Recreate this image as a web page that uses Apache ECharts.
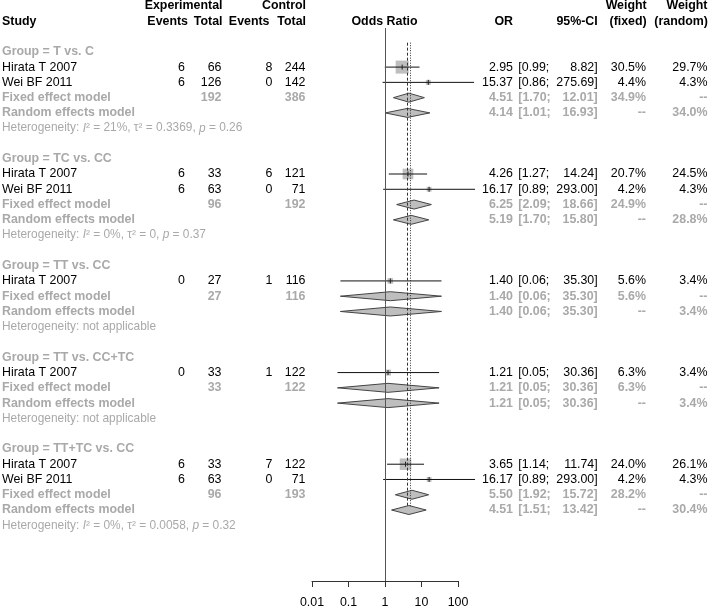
<!DOCTYPE html>
<html>
<head>
<meta charset="utf-8">
<script src="https://cdn.jsdelivr.net/npm/echarts@6.0.0/dist/echarts.min.js"></script>
<style>html,body{margin:0;padding:0;background:#fff}#c{width:709px;height:609px}</style>
</head>
<body>
<div id="c"></div>
<script>
// ---------------- data ----------------
const groupNames = ['T vs. C', 'TC vs. CC', 'TT vs. CC', 'TT vs. CC+TC', 'TT+TC vs. CC'];
const groupStudies = [['Hirata T 2007', 'Wei BF 2011'], ['Hirata T 2007', 'Wei BF 2011'], ['Hirata T 2007'], ['Hirata T 2007'], ['Hirata T 2007', 'Wei BF 2011']];
const expEvents = [[6, 6], [6, 6], [0], [0], [6, 6]];
const expTotal = [[66, 126], [33, 63], [27], [33], [33, 63]];
const ctrlEvents = [[8, 0], [6, 0], [1], [1], [7, 0]];
const ctrlTotal = [[244, 142], [121, 71], [116], [122], [122, 71]];
const studyOR = [[2.95, 15.37], [4.26, 16.17], [1.40], [1.21], [3.65, 16.17]];
const studyLower = [[0.99, 0.86], [1.27, 0.89], [0.06], [0.05], [1.14, 0.89]];
const studyUpper = [[8.82, 275.69], [14.24, 293.00], [35.30], [30.36], [11.74, 293.00]];
const studyWFixed = [[30.5, 4.4], [20.7, 4.2], [5.6], [6.3], [24.0, 4.2]];
const studyWRandom = [[29.7, 4.3], [24.5, 4.3], [3.4], [3.4], [26.1, 4.3]];
const fixedTotalE = [192, 96, 27, 33, 96];
const fixedTotalC = [386, 192, 116, 122, 193];
const fixedOR = [4.51, 6.25, 1.40, 1.21, 5.50];
const fixedLower = [1.70, 2.09, 0.06, 0.05, 1.92];
const fixedUpper = [12.01, 18.66, 35.30, 30.36, 15.72];
const fixedW = [34.9, 24.9, 5.6, 6.3, 28.2];
const randomOR = [4.14, 5.19, 1.40, 1.21, 4.51];
const randomLower = [1.01, 1.70, 0.06, 0.05, 1.51];
const randomUpper = [16.93, 15.80, 35.30, 30.36, 13.42];
const randomW = [34.0, 28.8, 3.4, 3.4, 30.4];
const hetI2 = ['21%', '0%', null, null, '0%'];
const hetTau2 = ['0.3369', '0', null, null, '0.0058'];
const hetP = ['0.26', '0.37', null, null, '0.32'];
const overallFixed = 4.05;
const overallRandom = 4.88;
const xTicks = [0.01, 0.1, 1, 10, 100];
const xTickLabels = ['0.01', '0.1', '1', '10', '100'];

// ---------------- layout / style ----------------
const FF = "'Liberation Sans', Arial, Helvetica, sans-serif";
const FS = 12.4, FS_HET = 11.9;
const TOP = 6, PITCH = 15.3, AXIS_Y = 582;
const BLACK = '#000', GREY = '#a9a9a9';
const COL = {study: 2, expE: 185, expT: 221.5, ctlE: 272.5, ctlT: 305.5, or: 513, ciL: 518.3, ciU: 597.7, wf: 646, wr: 707.5};

const texts = [];
function T(row, x, text, align, opts) {
  texts.push(Object.assign({row, x, text, align, weight: 'normal', color: BLACK, size: FS}, opts || {}));
}
// headers
const HB = {weight: 'bold'};
T(0, 222.5, 'Experimental', 'right', HB);
T(0, 306, 'Control', 'right', HB);
T(0, 646.7, 'Weight', 'right', HB);
T(0, 707.5, 'Weight', 'right', HB);
T(1, COL.study, 'Study', 'left', HB);
T(1, 188, 'Events', 'right', HB);
T(1, 222.5, 'Total', 'right', HB);
T(1, 269.5, 'Events', 'right', HB);
T(1, 306, 'Total', 'right', HB);
T(1, 384.5, 'Odds Ratio', 'center', HB);
T(1, 513, 'OR', 'right', HB);
T(1, 597.7, '95%-CI', 'right', HB);
T(1, 646.7, '(fixed)', 'right', HB);
T(1, 708, '(random)', 'right', HB);

const marks = []; // [x, row, lower, upper, weight, kind]
const f2 = v => v.toFixed(2);
let r = 3;
groupNames.forEach((g, gi) => {
  T(r, COL.study, 'Group = ' + g, 'left', {weight: 'bold', color: GREY});
  r++;
  groupStudies[gi].forEach((s, si) => {
    T(r, COL.study, s, 'left');
    T(r, COL.expE, String(expEvents[gi][si]), 'right');
    T(r, COL.expT, String(expTotal[gi][si]), 'right');
    T(r, COL.ctlE, String(ctrlEvents[gi][si]), 'right');
    T(r, COL.ctlT, String(ctrlTotal[gi][si]), 'right');
    T(r, COL.or, f2(studyOR[gi][si]), 'right');
    T(r, COL.ciL, '[' + f2(studyLower[gi][si]) + ';', 'left');
    T(r, COL.ciU, f2(studyUpper[gi][si]) + ']', 'right');
    T(r, COL.wf, studyWFixed[gi][si].toFixed(1) + '%', 'right');
    T(r, COL.wr, studyWRandom[gi][si].toFixed(1) + '%', 'right');
    marks.push([studyOR[gi][si], r, studyLower[gi][si], studyUpper[gi][si], studyWFixed[gi][si], 0]);
    r++;
  });
  const SB = {weight: 'bold', color: GREY};
  T(r, COL.study, 'Fixed effect model', 'left', SB);
  T(r, COL.expT, String(fixedTotalE[gi]), 'right', SB);
  T(r, COL.ctlT, String(fixedTotalC[gi]), 'right', SB);
  T(r, COL.or, f2(fixedOR[gi]), 'right', SB);
  T(r, COL.ciL, '[' + f2(fixedLower[gi]) + ';', 'left', SB);
  T(r, COL.ciU, f2(fixedUpper[gi]) + ']', 'right', SB);
  T(r, COL.wf, fixedW[gi].toFixed(1) + '%', 'right', SB);
  T(r, COL.wr, '--', 'right', SB);
  marks.push([fixedOR[gi], r, fixedLower[gi], fixedUpper[gi], 0, 1]);
  r++;
  T(r, COL.study, 'Random effects model', 'left', SB);
  T(r, COL.or, f2(randomOR[gi]), 'right', SB);
  T(r, COL.ciL, '[' + f2(randomLower[gi]) + ';', 'left', SB);
  T(r, COL.ciU, f2(randomUpper[gi]) + ']', 'right', SB);
  T(r, COL.wf, '--', 'right', SB);
  T(r, COL.wr, randomW[gi].toFixed(1) + '%', 'right', SB);
  marks.push([randomOR[gi], r, randomLower[gi], randomUpper[gi], 0, 2]);
  r++;
  const het = hetI2[gi] === null ? 'Heterogeneity: not applicable'
    : 'Heterogeneity: {it|I}² = ' + hetI2[gi] + ', τ² = ' + hetTau2[gi] + ', {it|p} = ' + hetP[gi];
  T(r, COL.study, het, 'left', {color: GREY, size: FS_HET, rich: true});
  r += 2;
});

const refLines = [ // [x, rowStart, rowEnd, kind]
  [1, 1.44, (AXIS_Y - TOP) / PITCH, 0],
  [overallFixed, 2.4, 32.8, 1],
  [overallRandom, 2.4, 32.8, 2]
];

const chart = echarts.init(document.getElementById('c'), null, {renderer: 'canvas'});
chart.setOption({
  animation: false,
  backgroundColor: '#fff',
  grid: {left: 312, width: 146, top: TOP, height: AXIS_Y - TOP},
  xAxis: {
    type: 'log', logBase: 10, min: 0.01, max: 100, position: 'bottom',
    axisLine: {show: true, onZero: false, lineStyle: {color: '#333', width: 1}},
    axisTick: {show: true, inside: false, length: 6, lineStyle: {color: '#333'}},
    splitLine: {show: false},
    axisLabel: {
      margin: 16, color: '#000', fontSize: FS, fontFamily: FF,
      formatter: v => {
        const i = xTicks.findIndex(t => Math.abs(Math.log10(t) - Math.log10(v)) < 1e-6);
        return i >= 0 ? xTickLabels[i] : '';
      }
    }
  },
  yAxis: {type: 'value', min: 0, max: (AXIS_Y - TOP) / PITCH, inverse: true, show: false},
  series: [
    {
      type: 'custom', clip: false, z: 2,
      data: marks,
      renderItem: (params, api) => {
        const x = api.value(0), row = api.value(1), lo = api.value(2), hi = api.value(3), w = api.value(4), kind = api.value(5);
        const p = api.coord([x, row]), pl = api.coord([lo, row]), pu = api.coord([hi, row]);
        if (kind === 0) {
          const s = 2.354 * Math.sqrt(w);
          return {type: 'group', children: [
            {type: 'rect', shape: {x: p[0] - s / 2, y: p[1] - s / 2, width: s, height: s}, style: {fill: '#bebebe'}},
            {type: 'line', shape: {x1: pl[0], y1: p[1], x2: pu[0], y2: p[1]}, style: {stroke: '#111', lineWidth: 1}},
            {type: 'line', shape: {x1: p[0], y1: p[1] - 2.5, x2: p[0], y2: p[1] + 2.5}, style: {stroke: '#222', lineWidth: 1}}
          ]};
        }
        const h = 4.5;
        return {type: 'polygon', shape: {points: [[pl[0], p[1]], [p[0], p[1] - h], [pu[0], p[1]], [p[0], p[1] + h]]},
          style: {fill: '#bebebe', stroke: '#444', lineWidth: 1}};
      }
    },
    {
      type: 'custom', clip: false, z: 3,
      data: refLines,
      renderItem: (params, api) => {
        const x = api.value(0), kind = api.value(3);
        const a = api.coord([x, api.value(1)]), b = api.coord([x, api.value(2)]);
        const xx = Math.round(a[0]) + 0.5;
        return {type: 'line', shape: {x1: xx, y1: a[1], x2: xx, y2: b[1]},
          style: {stroke: kind === 0 ? '#555' : '#333', lineWidth: 1, lineDash: kind === 1 ? [3, 2] : (kind === 2 ? [1, 1.5] : null)}};
      }
    },
    {
      type: 'custom', clip: false, z: 4,
      data: texts.map((t, i) => [1, t.row, i]),
      renderItem: (params, api) => {
        const t = texts[api.value(2)];
        const y = api.coord([1, api.value(1)])[1];
        const style = {text: t.text, x: 0, y: 0, align: t.align, verticalAlign: 'middle',
          fontSize: t.size, fontWeight: t.weight, fontFamily: FF, fill: t.color};
        if (t.rich) style.rich = {it: {fontStyle: 'italic', fontSize: t.size, fontFamily: FF, fill: t.color}};
        return {type: 'text', x: t.x, y: y, style};
      }
    }
  ]
});
</script>
</body>
</html>
